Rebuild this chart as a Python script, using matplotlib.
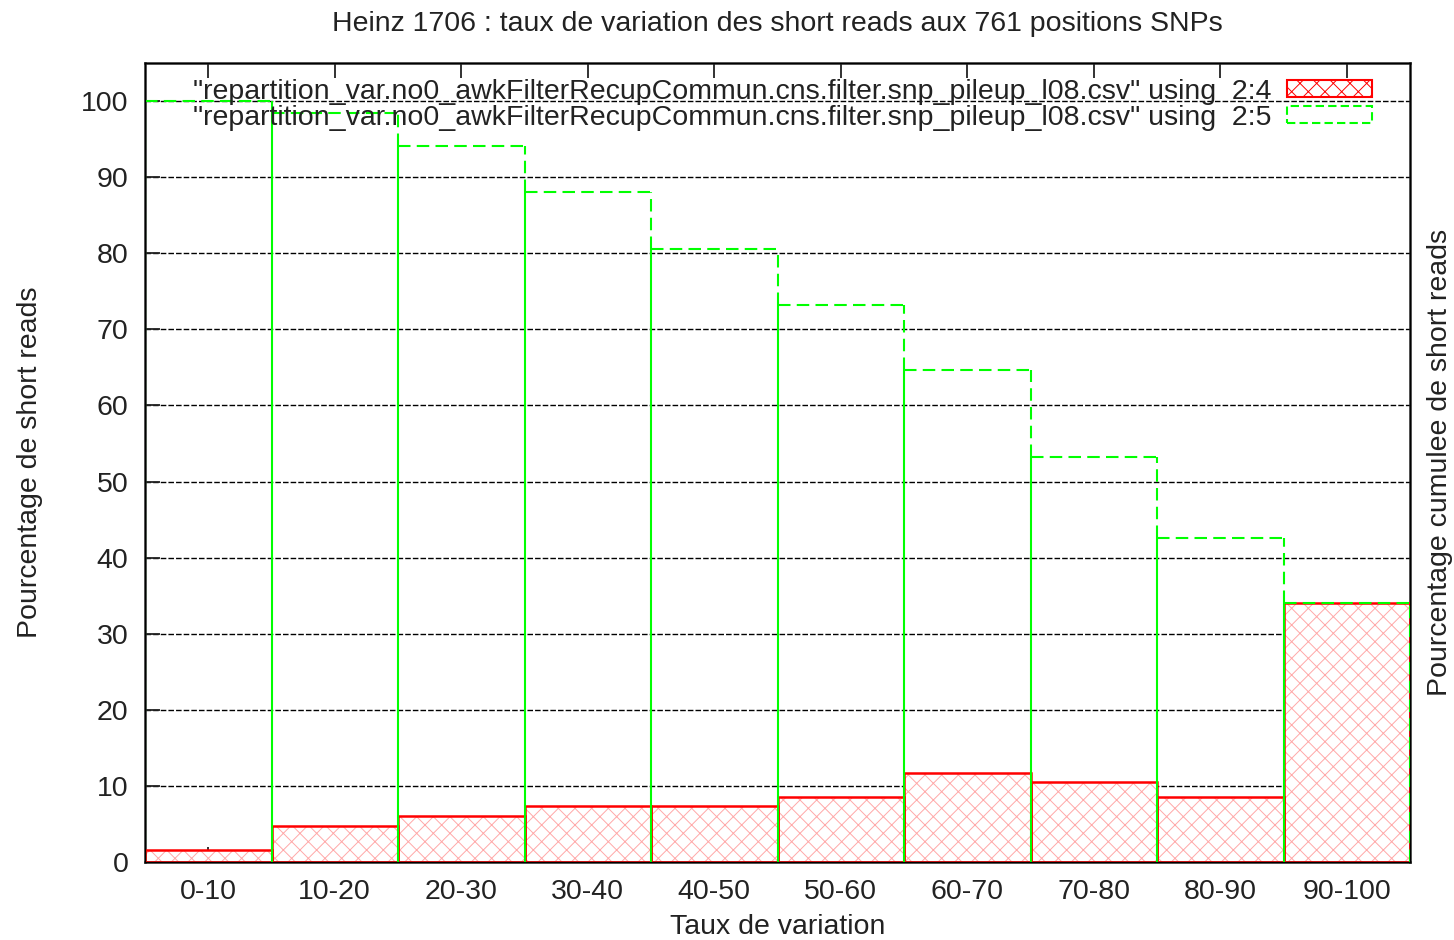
import numpy as np
import matplotlib
matplotlib.use("Agg")
import matplotlib.pyplot as plt
from matplotlib.patches import Rectangle

plt.rcParams["font.family"] = ["Liberation Sans", "DejaVu Sans"]
plt.rcParams["hatch.linewidth"] = 0.7

categories = ["0-10", "10-20", "20-30", "30-40", "40-50",
              "50-60", "60-70", "70-80", "80-90", "90-100"]
pct = [1.6, 4.7, 6.0, 7.4, 7.4, 8.6, 11.7, 10.5, 8.6, 34.0]
cumul = [100.0, 98.4, 94.1, 88.0, 80.5, 73.2, 64.6, 53.2, 42.6, 34.0]
label_4 = '"repartition_var.no0_awkFilterRecupCommun.cns.filter.snp_pileup_l08.csv" using  2:4'
label_5 = '"repartition_var.no0_awkFilterRecupCommun.cns.filter.snp_pileup_l08.csv" using  2:5'

TXT = "#222222"
RED = "#ff0000"
GREEN = "#00ff00"
FS = 20.5
DASH = (0, (6, 3))

fig = plt.figure(figsize=(14.54, 9.40), dpi=100)
ax = fig.add_axes([145 / 1454, 1 - 862 / 940, 1265 / 1454, 799 / 940])

x = np.arange(len(categories))
n = len(categories)

# barres rouges : hachures claires + contour rouge
ax.bar(x, pct, width=1.0, color="white", edgecolor="#ffa8a8", hatch="xx",
       linewidth=0, zorder=2)
ax.bar(x, pct, width=1.0, fill=False, edgecolor=RED, linewidth=1.8, zorder=3)

# barres vertes cumulees (contour seul) : dessus pointille,
# les bords communs a deux barres se superposent et paraissent pleins
ax.hlines(cumul, x - 0.5, x + 0.5, colors=GREEN, linewidth=1.5,
          linestyles=[DASH], zorder=4)
edges = np.arange(n + 1) - 0.5
left_h = [0.0] + cumul
right_h = cumul + [0.0]
low = np.minimum(left_h, right_h)
high = np.maximum(left_h, right_h)
ax.vlines(edges, 0, low, colors=GREEN, linewidth=1.5, zorder=4)
ax.vlines(edges, low, high, colors=GREEN, linewidth=1.5,
          linestyles=[DASH], zorder=4)

ax.set_xlim(-0.5, n - 0.5)
ax.set_ylim(0, 105)
ax.set_xticks(x)
ax.set_xticklabels(categories)
ax.set_yticks(np.arange(0, 101, 10))
ax.yaxis.grid(True, color="black", linestyle=(0, (4, 1.5)), linewidth=1.0)
ax.set_axisbelow(True)
ax.tick_params(axis="both", direction="in", length=11, width=1.3,
               labelsize=FS, colors=TXT, top=True, right=True, pad=12)
for s in ax.spines.values():
    s.set_linewidth(1.8)
    s.set_color("#222222")

ax.set_title("Heinz 1706 : taux de variation des short reads aux 761 positions SNPs",
             fontsize=FS, color=TXT, pad=23)
ax.set_xlabel("Taux de variation", fontsize=FS, color=TXT, labelpad=7)
ax.set_ylabel("Pourcentage de short reads", fontsize=FS, color=TXT, labelpad=27)
ax2 = ax.twinx()
ax2.set_yticks([])
ax2.set_ylabel("Pourcentage cumulee de short reads", fontsize=FS, color=TXT, labelpad=12)

h4 = Rectangle((0, 0), 1, 1, facecolor="white", edgecolor=RED, hatch="xx",
               linewidth=1.5)
h5 = Rectangle((0, 0), 1, 1, fill=False, edgecolor=GREEN, linewidth=1.5,
               linestyle=(0, (4, 2)))
leg = ax.legend([h4, h5], [label_4, label_5], loc="upper right", frameon=False,
                markerfirst=False, fontsize=FS, handlelength=3.0, handleheight=0.5,
                labelspacing=0.0, borderpad=0.2, borderaxespad=0.0,
                handletextpad=0.55,
                bbox_to_anchor=(1 - 32 / 1265, 1 - 10 / 799))
for t in leg.get_texts():
    t.set_color(TXT)

fig.savefig("out.png", dpi=100)
